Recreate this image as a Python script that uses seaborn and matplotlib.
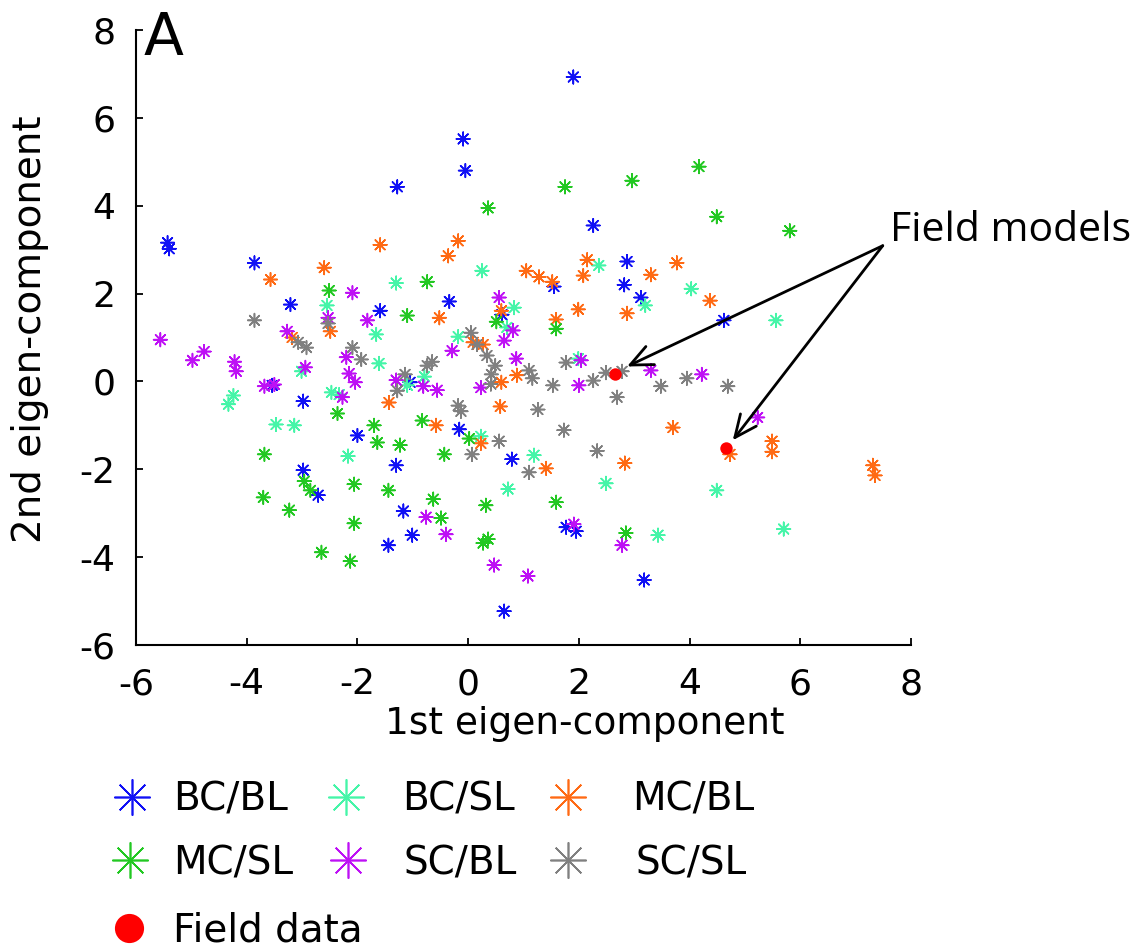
import numpy as np
import pandas as pd
import matplotlib
matplotlib.use("Agg")
import matplotlib.pyplot as plt
from matplotlib.lines import Line2D
import seaborn as sns

# ---- data: projections on the first two eigen-components ----
bcbl_x = [1.90, -0.09, -0.05, -1.28, 2.26, -5.43, -5.40, -3.86, -3.21, -1.59, -3.54, -2.98, -2.00,
          1.55, 2.87, 2.82, 3.12, -0.34, 0.61, -1.05, -0.16, 4.62, 0.79, -1.30, -1.17, -1.01, 1.77,
          1.95, 3.18, 0.65, -2.98, -2.71, -1.44]
bcbl_y = [6.93, 5.52, 4.80, 4.43, 3.55, 3.16, 3.02, 2.70, 1.75, 1.61, -0.09, -0.45, -1.23,
          2.16, 2.73, 2.20, 1.91, 1.82, 1.52, -0.02, -1.09, 1.39, -1.77, -1.91, -2.95, -3.50, -3.32,
          -3.41, -4.52, -5.23, -2.02, -2.59, -3.73]

bcsl_x = [-2.55, -1.30, -1.66, -1.61, -3.01, -4.24, -4.33, -2.47, -2.33, -3.47, -3.14, 0.25, 2.36,
          3.20, 0.83, 0.70, -0.18, 1.99, -0.79, -1.10, 0.23, 4.03, 5.56, 4.49, 5.70, 3.43, 1.19,
          2.49, 0.72, -2.17]
bcsl_y = [1.73, 2.24, 1.07, 0.41, 0.23, -0.32, -0.52, -0.25, -0.30, -0.98, -1.00, 2.52, 2.64,
          1.73, 1.68, 1.23, 1.02, 0.52, 0.11, -0.09, -1.25, 2.11, 1.39, -2.48, -3.36, -3.50, -1.68,
          -2.32, -2.45, -1.70]

mcbl_x = [-0.18, -2.60, -3.57, -1.59, -2.49, -3.18, -1.43, -0.36, 1.05, 1.28, 1.52, 2.15, 2.08,
          3.30, -0.52, 0.60, 1.99, 1.59, 2.87, 0.09, 0.27, 0.60, 0.88, 0.58, -0.58, 0.23, 3.77,
          4.37, 3.70, 5.49, 4.73, 5.49, 7.31, 7.35, 1.41, 2.83]
mcbl_y = [3.20, 2.59, 2.32, 3.11, 1.14, 1.00, -0.48, 2.86, 2.52, 2.38, 2.27, 2.77, 2.41,
          2.43, 1.45, 1.61, 1.64, 1.41, 1.55, 0.89, 0.84, -0.02, 0.14, -0.57, -1.00, -1.41, 2.70,
          1.84, -1.05, -1.36, -1.66, -1.60, -1.91, -2.14, -1.98, -1.86]

mcsl_x = [0.36, 1.75, 2.96, 4.17, 4.49, 5.81, -2.51, -2.36, -1.70, -1.64, -0.74, -1.10, 0.51,
          1.59, -0.83, 0.02, -1.23, -0.43, -0.63, 0.32, 1.59, -0.49, 0.27, 0.36, 2.85, -3.68,
          -2.96, -2.85, -2.06, -1.44, -3.70, -3.23, -2.06, -2.65, -2.13]
mcsl_y = [3.95, 4.43, 4.57, 4.89, 3.75, 3.43, 2.07, -0.73, -1.00, -1.39, 2.27, 1.50, 1.36,
          1.20, -0.89, -1.30, -1.45, -1.66, -2.68, -2.82, -2.75, -3.11, -3.68, -3.59, -3.45, -1.66,
          -2.27, -2.48, -2.34, -2.48, -2.64, -2.93, -3.23, -3.89, -4.09]

scbl_x = [-2.09, -2.53, -1.82, -3.27, -5.56, -4.98, -4.77, -4.22, -4.19, -2.20, -2.15, -2.04,
          -2.27, -2.94, -3.68, -3.50, -1.30, 0.56, 0.81, 0.65, -0.29, 0.87, 2.04, 2.00, 3.30,
          -0.81, -0.56, 0.23, 4.22, 5.23, -0.76, -0.40, 1.91, 2.78, 0.47, 1.08]
scbl_y = [2.02, 1.45, 1.39, 1.14, 0.95, 0.48, 0.68, 0.45, 0.23, 0.55, 0.18, -0.02,
          -0.36, 0.32, -0.11, -0.07, 0.03, 1.91, 1.16, 0.93, 0.70, 0.52, 0.48, -0.09, 0.25,
          -0.11, -0.20, -0.14, 0.16, -0.82, -3.09, -3.48, -3.25, -3.73, -4.18, -4.43]

scsl_x = [-2.53, -3.86, -3.07, -2.92, -2.09, -1.93, -1.28, 0.05, 0.16, 0.34, 0.49, -0.65, -0.74,
          0.42, 0.41, 1.10, 1.16, 1.77, 1.53, 2.26, 2.49, 2.78, 2.69, -1.14, -0.18, -0.13, 1.26,
          1.73, 0.56, 2.33, 3.48, 3.95, 4.69, 0.07, 1.10]
scsl_y = [1.32, 1.39, 0.89, 0.77, 0.77, 0.50, -0.21, 1.11, 0.84, 0.59, 0.36, 0.45, 0.36,
          0.16, -0.06, 0.25, 0.07, 0.43, -0.09, 0.02, 0.20, 0.23, -0.36, 0.16, -0.55, -0.68, -0.64,
          -1.11, -1.36, -1.58, -0.11, 0.07, -0.11, -1.66, -2.07]

field_x = [2.65, 4.66]
field_y = [0.18, -1.52]

groups = ["BC/BL", "BC/SL", "MC/BL", "MC/SL", "SC/BL", "SC/SL"]
colors = ["#1010F5", "#45F5A8", "#FF6A14", "#22C822", "#BE10F5", "#808080"]
xs = [bcbl_x, bcsl_x, mcbl_x, mcsl_x, scbl_x, scsl_x]
ys = [bcbl_y, bcsl_y, mcbl_y, mcsl_y, scbl_y, scsl_y]

x_ticks = [-6, -4, -2, 0, 2, 4, 6, 8]
y_ticks = [-6, -4, -2, 0, 2, 4, 6, 8]

df = pd.concat(
    [pd.DataFrame({"x": gx, "y": gy, "group": g}) for g, gx, gy in zip(groups, xs, ys)],
    ignore_index=True,
)
field = pd.DataFrame({"x": field_x, "y": field_y})

# ---- style ----
sns.set_style("ticks")
plt.rcParams["font.family"] = ["DejaVu Sans"]
plt.rcParams["axes.unicode_minus"] = False
for key in ("text.color", "axes.labelcolor", "xtick.color", "ytick.color",
            "xtick.labelcolor", "ytick.labelcolor", "axes.edgecolor"):
    plt.rcParams[key] = "black"

W, H = 1136, 949
fig = plt.figure(figsize=(W / 100, H / 100), dpi=100)
ax = fig.add_axes([136 / W, 1 - 645 / H, (911 - 136) / W, (645 - 30) / H])

ASTERISK = (8, 2, 0)
palette = dict(zip(groups, colors))

sns.scatterplot(data=df, x="x", y="y", hue="group", hue_order=groups, palette=palette,
                marker=ASTERISK, s=95, linewidth=1.15, legend=False, ax=ax, zorder=3)
sns.scatterplot(data=field, x="x", y="y", color="#FF0000", marker="o", s=80,
                linewidth=0, legend=False, ax=ax, zorder=4)

ax.set_xlim(-6, 8)
ax.set_ylim(-6, 8)
ax.set_xticks(x_ticks)
ax.set_yticks(y_ticks)
ax.set_xticklabels([str(t) for t in x_ticks])
ax.set_yticklabels([str(t) for t in y_ticks])
for side in ("top", "right"):
    ax.spines[side].set_visible(False)
for side in ("left", "bottom"):
    ax.spines[side].set_linewidth(1.5)
    ax.spines[side].set_color("black")
ax.tick_params(axis="both", direction="in", length=5, width=1.3, labelsize=26,
               colors="black", labelcolor="black")
ax.tick_params(axis="x", pad=16)
ax.tick_params(axis="y", pad=15)

ax.set_xlabel("1st eigen-component", fontsize=27, color="black")
ax.set_ylabel("2nd eigen-component", fontsize=28, color="black")
ax.xaxis.set_label_coords((585 - 136) / 775, (645 - 706) / 615)
ax.yaxis.set_label_coords((49 - 136) / 775, 0.5 + (337 - 329) / 615)

# panel letter
fig.text(144 / W, 1 - 10 / H, "A", fontsize=42, ha="left", va="top", color="black")

# annotation pointing at the two field models
ax.text(7.62, 2.97, "Field models", fontsize=29.5, family="Open Sans", color="black",
        ha="left", va="bottom", clip_on=False)
start = (7.49, 3.09)
for tip in [(2.87, 0.34), (4.78, -1.34)]:
    ax.annotate("", xy=tip, xytext=start, xycoords="data", textcoords="data",
                arrowprops=dict(arrowstyle="->,head_length=1.0,head_width=0.45",
                                color="black", lw=2.0, mutation_scale=16,
                                shrinkA=0, shrinkB=0),
                annotation_clip=False, zorder=5)

# ---- legend below the axes ----
FS = 28
fs_px = FS * 100 / 72
entries = [
    ("BC/BL", 0, 132, 800, 173),
    ("BC/SL", 1, 346, 800, 402),
    ("MC/BL", 2, 568, 800, 632),
    ("MC/SL", 3, 130, 863, 173),
    ("SC/BL", 4, 348, 863, 403),
    ("SC/SL", 5, 568, 863, 635),
    ("Field data", None, 129, 931, 173),
]
half = 20
for label, idx, mx, my, tx in entries:
    if idx is None:
        h = Line2D([], [], marker="o", color="#FF0000", linestyle="none",
                   markersize=21, markeredgewidth=0)
    else:
        h = Line2D([], [], marker=ASTERISK, color=colors[idx], linestyle="none",
                   markersize=26, markeredgewidth=1.2)
    fig.legend(handles=[h], labels=[label], loc="center left",
               bbox_to_anchor=((mx - half) / W, 1 - my / H), frameon=False,
               fontsize=FS, handlelength=2 * half / fs_px,
               handletextpad=(tx - (mx + half)) / fs_px,
               borderpad=0, borderaxespad=0, numpoints=1, labelcolor="black")

fig.savefig("out.png", dpi=100)
